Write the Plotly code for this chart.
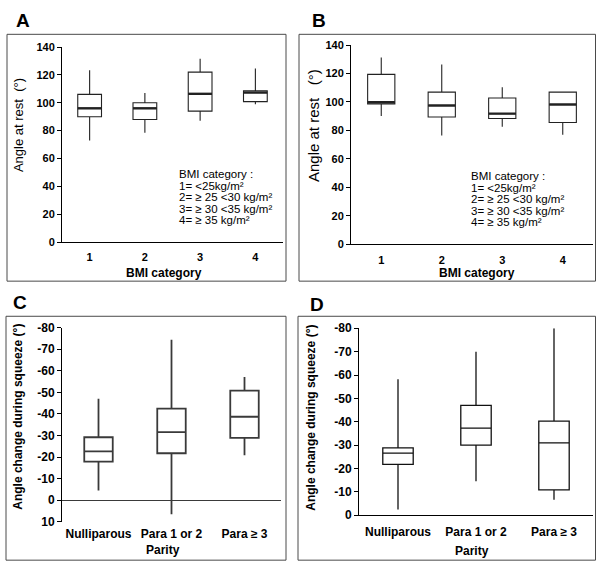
import plotly.graph_objects as go

W, H = 604, 574

# ---------------- data ----------------
bmi_cats = [1, 2, 3, 4]
bmi_ticktext = ["1", "2", "3", "4"]

# Panel A (angle at rest by BMI category)
a_low = [73, 78.5, 87, 99]
a_q1 = [90, 88, 94, 100.8]
a_med = [96, 96, 106.4, 107.3]
a_q3 = [106, 100, 122, 108.5]
a_high = [123.4, 107, 131.6, 124.6]

# Panel B (angle at rest by BMI category)
b_low = [90.2, 76.5, 82.7, 77]
b_q1 = [98.7, 89.5, 88.4, 85.6]
b_med = [99.8, 97.5, 91.8, 98.2]
b_q3 = [119.4, 106.9, 102.8, 106.9]
b_high = [131.3, 126.3, 110.3, 106.9]

rest_ticks = [0, 20, 40, 60, 80, 100, 120, 140]

parity_cats = [1, 2, 3]
parity_ticktext = ["Nulliparous", "Para 1 or 2", "Para \u2265 3"]

# Panel C (angle change during squeeze by parity); more negative = larger change
c_min = [-47, -74.4, -57.1]      # whisker end (most negative)
c_q_lo = [-29.2, -42.5, -50.8]   # box edge (more negative)
c_med = [-22.7, -31.6, -38.7]
c_q_hi = [-17.9, -21.8, -28.9]   # box edge (less negative)
c_max = [-4.5, 6.5, -20.9]       # whisker end (least negative)
c_ticks = [10, 0, -10, -20, -30, -40, -50, -60, -70, -80]

# Panel D (angle change during squeeze by parity)
d_min = [-58.2, -70, -80]
d_q_lo = [-28.8, -47, -40.3]
d_med = [-26.6, -37.3, -31]
d_q_hi = [-21.8, -30, -10.9]
d_max = [-2.5, -14.6, -6.7]
d_ticks = [0, -10, -20, -30, -40, -50, -60, -70, -80]

bmi_legend = [
    "BMI category :",
    "1= <25kg/m\u00b2",
    "2= \u2265 25 <30 kg/m\u00b2",
    "3= \u2265 30 <35 kg/m\u00b2",
    "4= \u2265 35 kg/m\u00b2",
]

# ---------------- helpers ----------------
FONT = "Liberation Sans, Arial, sans-serif"
NB = "\u00a0"


def px(x):
    return x / W


def py(y):
    return 1 - y / H


def lab(vals):
    return [("-" + str(-v)) if v < 0 else str(v) for v in vals]


fig = go.Figure()


def add_panel(n, xs, low, q1, med, q3, high, width, color, lw, med_lw):
    xa = "x" if n == 1 else f"x{n}"
    ya = "y" if n == 1 else f"y{n}"
    fig.add_trace(go.Box(
        x=xs, q1=q1, median=med, q3=q3, lowerfence=low, upperfence=high,
        width=width, fillcolor="white", line=dict(color=color, width=lw),
        whiskerwidth=0, boxpoints=False, hoverinfo="skip",
        xaxis=xa, yaxis=ya, showlegend=False,
    ))
    if med_lw > lw:
        mx, my = [], []
        for x, m in zip(xs, med):
            mx += [x - width / 2, x + width / 2, None]
            my += [m, m, None]
        fig.add_trace(go.Scatter(
            x=mx, y=my, mode="lines", line=dict(color=color, width=med_lw),
            xaxis=xa, yaxis=ya, showlegend=False, hoverinfo="skip",
        ))


add_panel(1, bmi_cats, a_low, a_q1, a_med, a_q3, a_high, 0.43, "#222222", 1.1, 2.4)
add_panel(2, bmi_cats, b_low, b_q1, b_med, b_q3, b_high, 0.45, "#222222", 1.1, 2.4)
add_panel(3, parity_cats, c_min, c_q_lo, c_med, c_q_hi, c_max, 0.39, "#3a3a3a", 1.8, 1.8)
add_panel(4, parity_cats, d_min, d_q_lo, d_med, d_q_hi, d_max, 0.39, "#111111", 1.3, 1.3)

tickfont = dict(family=FONT, size=11, color="black", weight="bold")
tickfont_cd = dict(family=FONT, size=12, color="black", weight="bold")
xtickfont = dict(family=FONT, size=12, color="black", weight="bold")

common_y = dict(showgrid=False, zeroline=False, showline=True, linecolor="black",
                linewidth=1, ticks="outside", ticklen=4, tickcolor="black",
                fixedrange=True)
common_x = dict(showgrid=False, zeroline=False, fixedrange=True)

fig.update_layout(
    width=W, height=H, margin=dict(l=0, r=0, t=0, b=0),
    paper_bgcolor="white", plot_bgcolor="rgba(0,0,0,0)",
    showlegend=False,
    xaxis=dict(common_x, domain=[px(62), px(283)], range=[0.5, 4.5], anchor="y",
               showline=True, linecolor="black", linewidth=1, ticks="",
               tickvals=bmi_cats, ticktext=bmi_ticktext, tickfont=tickfont,
               ticklabelstandoff=5),
    yaxis=dict(common_y, domain=[py(241), py(41)], range=[0, 140], anchor="x",
               tickvals=rest_ticks, ticktext=[str(v) for v in rest_ticks],
               tickfont=tickfont),
    xaxis2=dict(common_x, domain=[px(351), px(593)], range=[0.5, 4.5], anchor="y2",
                showline=True, linecolor="black", linewidth=1, ticks="",
                tickvals=bmi_cats, ticktext=bmi_ticktext, tickfont=tickfont,
                ticklabelstandoff=5),
    yaxis2=dict(common_y, domain=[py(243.3), py(39)], range=[0, 140], anchor="x2",
                tickvals=rest_ticks, ticktext=[str(v) for v in rest_ticks],
                tickfont=tickfont),
    xaxis3=dict(common_x, domain=[px(62), px(281)], range=[0.5, 3.5], anchor="y3",
                showline=False, ticks="", tickvals=parity_cats,
                ticktext=parity_ticktext, tickfont=xtickfont, ticklabelstandoff=3),
    yaxis3=dict(common_y, domain=[py(527.7), py(328.7)], range=[10, -80], anchor="x3",
                tickvals=c_ticks, ticktext=lab(c_ticks), tickfont=tickfont_cd,
                zeroline=True, zerolinecolor="#3a3a3a", zerolinewidth=1.3),
    xaxis4=dict(common_x, domain=[px(359), px(593)], range=[0.5, 3.5], anchor="y4",
                showline=True, linecolor="black", linewidth=1, ticks="",
                tickvals=parity_cats, ticktext=parity_ticktext, tickfont=xtickfont,
                ticklabelstandoff=5),
    yaxis4=dict(common_y, domain=[py(521), py(329.3)], range=[0, -80], anchor="x4",
                tickvals=d_ticks, ticktext=lab(d_ticks), tickfont=tickfont_cd),
)

# panel frames
frames = [(7, 28, 286, 281), (299, 28, 595.5, 281), (6, 317, 286, 567), (298, 317, 595.5, 567)]
for x0, y0, x1, y1 in frames:
    fig.add_shape(type="rect", xref="paper", yref="paper",
                  x0=px(x0), x1=px(x1), y0=py(y0), y1=py(y1),
                  line=dict(color="#4a4a4a", width=1), fillcolor="rgba(0,0,0,0)",
                  layer="below")

annos = []
# panel letters
for t, x, y in [("A", 23, 13.5), ("B", 318.5, 13.5), ("C", 20, 302.5), ("D", 317, 304.5)]:
    annos.append(dict(text=t, x=px(x), y=py(y), xref="paper", yref="paper",
                      showarrow=False, xanchor="center", yanchor="middle",
                      font=dict(family=FONT, size=19, color="black", weight="bold")))

# axis titles
ytitles = [("Angle at rest" + NB * 2 + "(\u00b0)", 18, 121, "normal", 13),
           ("Angle at rest" + NB * 3 + "(\u00b0)", 313, 122, "normal", 15),
           ("Angle change during squeeze (\u00b0)", 18, 420, "bold", 12),
           ("Angle change during squeeze (\u00b0)", 311, 421, "bold", 12)]
for t, x, y, wgt, s in ytitles:
    annos.append(dict(text=t, x=px(x), y=py(y), xref="paper", yref="paper",
                      showarrow=False, textangle=-90, xanchor="center", yanchor="middle",
                      font=dict(family=FONT, size=s, color="black", weight=wgt)))

xtitles = [("BMI category", 163.5, 273), ("BMI category", 477, 273),
           ("Parity", 163, 557), ("Parity", 472, 558)]
for t, x, y in xtitles:
    annos.append(dict(text=t, x=px(x), y=py(y), xref="paper", yref="paper",
                      showarrow=False, xanchor="center", yanchor="middle",
                      font=dict(family=FONT, size=12, color="black", weight="bold")))

# BMI category key (panels A and B)
for (x0, y0) in [(177, 171.5), (469, 173.5)]:
    for i, line in enumerate(bmi_legend):
        annos.append(dict(text=line, x=px(x0), y=py(y0 + i * 11.8), xref="paper",
                          yref="paper", showarrow=False, xanchor="left",
                          yanchor="middle",
                          font=dict(family=FONT, size=11.5, color="black")))

fig.update_layout(annotations=annos)

fig.write_html(
    "out.html",
    config={"displayModeBar": False},
    post_script="document.body.style.margin='0';document.body.style.overflow='hidden';",
)
